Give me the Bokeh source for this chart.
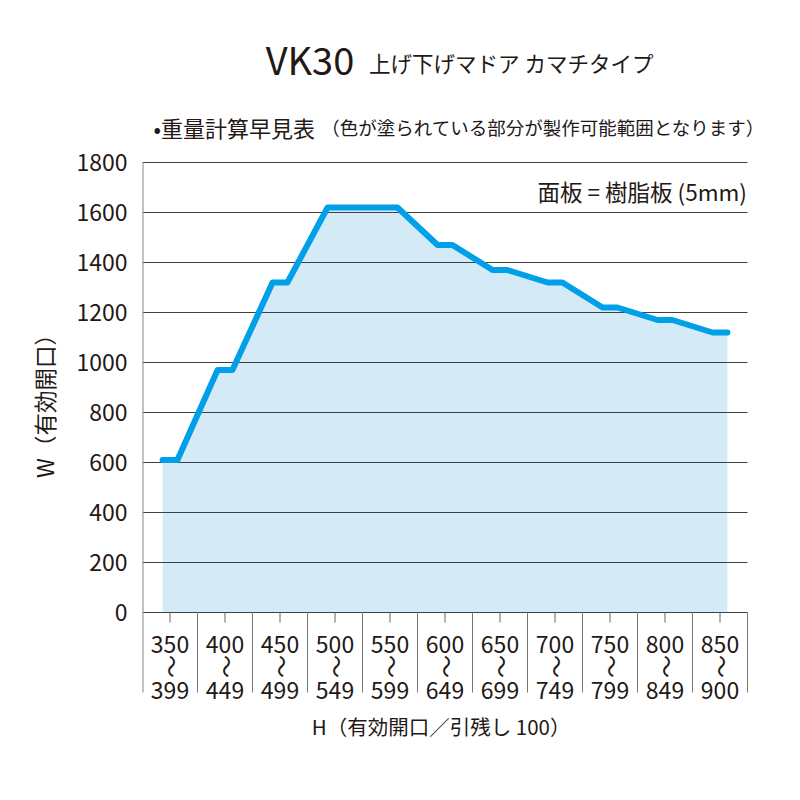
import math
from bokeh.plotting import figure
from bokeh.models import Range1d, FixedTicker, Label
from bokeh.core.properties import value
from bokeh.embed import file_html
from bokeh.resources import INLINE

# ---- data ----
h_from = [350, 400, 450, 500, 550, 600, 650, 700, 750, 800, 850]
h_to = [399, 449, 499, 549, 599, 649, 699, 749, 799, 849, 900]
w_max = [610, 970, 1320, 1620, 1620, 1470, 1370, 1320, 1220, 1170, 1120]
y_ticks = [0, 200, 400, 600, 800, 1000, 1200, 1400, 1600, 1800]

title_main = "VK30"
title_sub = "上げ下げマドア カマチタイプ"
subtitle_a = "•重量計算早見表"
subtitle_b = "（色が塗られている部分が製作可能範囲となります）"
note = "面板 = 樹脂板 (5mm)"
y_label = "W（有効開口）"
x_label = "H（有効開口／引残し 100）"

FONT = "Noto Sans CJK JP"
TXT = "#231815"
LINE = "#00a0e9"
FILL = "#d4ebf7"

n = len(h_from)
W, H = 800, 800
LEFT = 142           # frame left edge (px)
PX_X = 55.0          # px per category cell
PX_Y = 0.25          # px per unit of W
ZERO_Y = 612         # px of W=0 from top

p = figure(width=W, height=H, output_backend="svg", toolbar_location=None, tools="",
           x_range=Range1d(0, (W - LEFT) / PX_X),
           y_range=Range1d(-(H - ZERO_Y) / PX_Y, ZERO_Y / PX_Y),
           x_axis_type=None,
           min_border_left=LEFT, min_border_right=0, min_border_top=0, min_border_bottom=0)
p.outline_line_color = None
p.xgrid.visible = False
p.ygrid.visible = False

# y axis (real axis, ticks only at the chart values)
p.yaxis.ticker = FixedTicker(ticks=y_ticks)
p.yaxis.axis_line_color = None
p.yaxis.major_tick_line_color = None
p.yaxis.major_tick_out = 0
p.yaxis.major_tick_in = 0
p.yaxis.minor_tick_line_color = None
p.yaxis.minor_tick_out = 0
p.yaxis.major_label_text_font = FONT
p.yaxis.major_label_text_font_size = "23px"
p.yaxis.major_label_text_color = TXT
p.yaxis.major_label_standoff = 15
p.yaxis.axis_label = y_label
p.yaxis.axis_label_text_font = FONT
p.yaxis.axis_label_text_font_size = "22.5px"
p.yaxis.axis_label_text_font_style = "normal"
p.yaxis.axis_label_text_color = TXT
p.yaxis.axis_label_standoff = 13

# step area
half = 0.135
xs, ys = [], []
for i, v in enumerate(w_max):
    c = i + 0.5
    xs += [c - half, c + half]
    ys += [v, v]
p.varea(x=xs, y1=[0] * len(xs), y2=ys, fill_color=FILL)

# horizontal grid lines across the cells
p.segment(x0=[0] * len(y_ticks), y0=y_ticks, x1=[n] * len(y_ticks), y1=y_ticks,
          line_color="#404040", line_width=1)

p.line(xs, ys, line_color=LINE, line_width=6, line_join="round", line_cap="round")

centers = [i + 0.5 for i in range(n)]
seps = list(range(1, n + 1))
bottom = -320

# category cell separators and ticks
p.segment(x0=seps, y0=[0] * len(seps), x1=seps, y1=[bottom] * len(seps), line_color="#777777", line_width=1)
p.segment(x0=[0], y0=[y_ticks[-1]], x1=[0], y1=[bottom], line_color="#888888", line_width=2)
p.segment(x0=centers, y0=[0] * n, x1=centers, y1=[-40] * n, line_color="#666666", line_width=1)

p.text(x=centers, y=[-126] * n, text=[str(v) for v in h_from], text_align="center", text_baseline="middle",
       text_font=value(FONT), text_font_size="23px", text_color=TXT)
p.text(x=centers, y=[-216] * n, text=["〜"] * n, angle=math.pi / 2, text_align="center", text_baseline="middle",
       text_font=value(FONT), text_font_size="23px", text_color=TXT)
p.text(x=centers, y=[-310] * n, text=[str(v) for v in h_to], text_align="center", text_baseline="middle",
       text_font=value(FONT), text_font_size="23px", text_color=TXT)

# labels
def lab(x, y, text, size, align="left", baseline="middle"):
    p.add_layout(Label(x=x, y=y, text=text, text_font=FONT, text_font_size=size, text_color=TXT,
                       text_align=align, text_baseline=baseline))

lab(2.24, 2216, title_main, "38px")
lab(4.12, 2202, title_sub, "21.5px")
lab(0.2, 1944, subtitle_a, "22px")
lab(3.25, 1942, subtitle_b, "18.5px")
lab(n - 0.01, 1688, note, "22.5px", align="right")
lab(5.43, -452, x_label, "20.5px", align="center")

open("out.html", "w").write(file_html(p, INLINE))
